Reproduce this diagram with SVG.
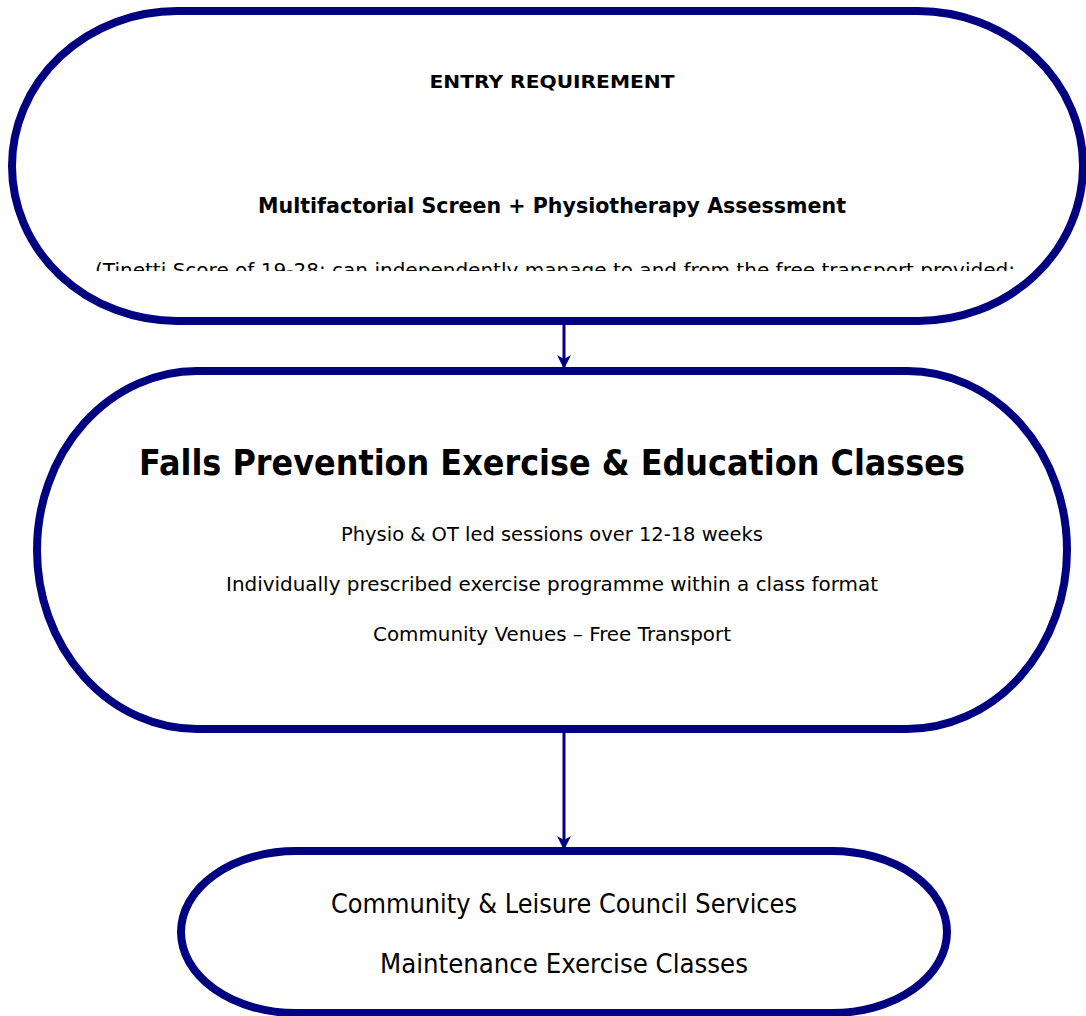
<svg xmlns="http://www.w3.org/2000/svg" width="1086" height="1016" viewBox="0 0 1086 1016">
  <style>
    .node { fill: #ffffff; stroke: #000080; stroke-width: 8; }
    .edge { stroke: #000080; stroke-width: 3; fill: none; }
    text { font-family: "Comic Sans MS", "DejaVu Sans", "Liberation Sans", sans-serif; fill: #000000; text-anchor: middle; }
    .b { font-weight: bold; }
  </style>
  <defs>
    <marker id="arrow" markerWidth="14" markerHeight="14" refX="13" refY="7" orient="auto" markerUnits="userSpaceOnUse">
      <path d="M0,0 L14,7 L0,14 L4,7 Z" fill="#000080"/>
    </marker>
    <clipPath id="entryClip">
      <rect x="0" y="0" width="1086" height="271"/>
    </clipPath>
  </defs>

  <rect width="1086" height="1016" fill="#ffffff"/>

  <g id="connectors">
    <line class="edge" x1="564" y1="325" x2="564" y2="368" marker-end="url(#arrow)"/>
    <line class="edge" x1="564" y1="733" x2="564" y2="849" marker-end="url(#arrow)"/>
  </g>

  <g id="entry-requirement">
    <rect class="node" x="12" y="11" width="1071" height="310" rx="165" ry="155"/>
    <text class="b" x="552" y="88" font-size="18" textLength="245" lengthAdjust="spacingAndGlyphs">ENTRY REQUIREMENT</text>
    <text class="b" x="552" y="213" font-size="22" textLength="588" lengthAdjust="spacingAndGlyphs">Multifactorial Screen + Physiotherapy Assessment</text>
    <g clip-path="url(#entryClip)">
      <text x="555" y="277" font-size="20" textLength="920" lengthAdjust="spacingAndGlyphs">(Tinetti Score of 19-28; can independently manage to and from the free transport provided;</text>
    </g>
  </g>

  <g id="falls-prevention-classes">
    <rect class="node" x="37" y="371" width="1030" height="358" rx="160" ry="179"/>
    <text class="b" x="552" y="475" font-size="36" textLength="826" lengthAdjust="spacingAndGlyphs">Falls Prevention Exercise &amp; Education Classes</text>
    <text x="552" y="541" font-size="20" textLength="422" lengthAdjust="spacingAndGlyphs">Physio &amp; OT led sessions over 12-18 weeks</text>
    <text x="552" y="591" font-size="20" textLength="652" lengthAdjust="spacingAndGlyphs">Individually prescribed exercise programme within a class format</text>
    <text x="552" y="641" font-size="20" textLength="358" lengthAdjust="spacingAndGlyphs">Community Venues – Free Transport</text>
  </g>

  <g id="maintenance-classes">
    <rect class="node" x="181" y="851" width="766" height="162" rx="115" ry="81"/>
    <text x="564" y="913" font-size="26" textLength="466" lengthAdjust="spacingAndGlyphs">Community &amp; Leisure Council Services</text>
    <text x="564" y="973" font-size="26" textLength="368" lengthAdjust="spacingAndGlyphs">Maintenance Exercise Classes</text>
  </g>
</svg>
